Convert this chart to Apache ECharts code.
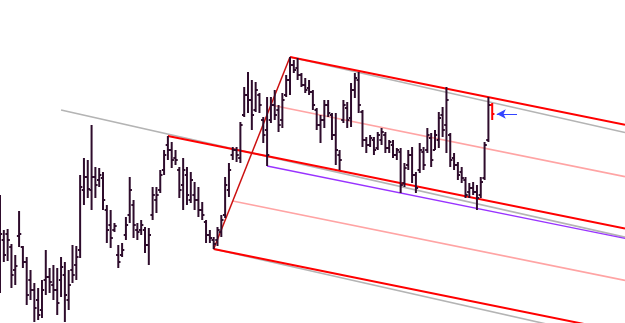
<!DOCTYPE html>
<html>
<head>
<meta charset="utf-8">
<script src="https://cdn.jsdelivr.net/npm/echarts@6/dist/echarts.min.js"></script>
<style>html,body{margin:0;padding:0;background:#fff}#main{width:625px;height:323px}</style>
</head>
<body>
<div id="main"></div>
<script>
// OHLC bars, one per period
var opens = [150,160,166,153,130,164,153,138,120,110,100,90,120,123,115,110,120,125,100,130,135,150,210,223,210,223,220,222,190,175,
  170,145,145,165,185,195,170,170,170,155,185,200,210,230,255,250,242,230,215,225,200,205,200,190,178,165,160,160,168,185,
  210,245,250,242,285,305,300,290,305,280,270,280,295,290,280,305,320,335,332,325,315,312,308,290,275,280,295,285,265,245,
  280,292,282,310,320,288,260,255,260,252,260,265,252,255,245,248,217,235,245,225,230,248,250,262,250,260,285,275,265,
  242,235,228,220,208,212,208,205,222,260,295];
var closes = [166,145,160,125,134,166,138,105,110,92,85,110,123,118,110,97,133,105,115,125,143,213,223,211,223,215,225,200,170,162,
  174,138,150,175,210,175,168,175,155,165,205,205,225,245,250,240,240,210,230,205,220,200,190,185,165,162,156,170,180,215,
  230,250,245,275,305,300,285,310,295,265,245,295,285,275,300,320,335,330,325,315,310,308,295,275,280,295,287,265,250,240,
  295,280,310,322,295,260,255,262,250,265,268,252,258,245,250,215,232,245,225,212,250,235,265,240,265,282,270,300,240,
  235,225,222,205,212,208,202,218,255,295,286];
var lows = [107,138,139,112,115,153,132,95,100,78,80,82,105,107,100,85,103,78,90,117,120,142,195,202,190,202,213,190,157,152,
  168,132,143,160,177,162,160,165,147,135,180,187,207,225,240,232,235,202,190,195,197,190,183,180,157,157,151,154,163,182,
  203,240,238,237,283,287,270,288,287,257,234,277,280,268,272,303,305,327,320,313,307,305,290,270,257,272,283,260,235,230,
  277,272,273,302,287,253,247,253,245,250,255,247,247,242,240,207,213,230,217,207,227,230,247,233,250,252,263,247,233,
  230,220,217,202,202,205,190,202,220,258,280];
var highs = [205,170,171,156,145,189,154,143,130,117,112,120,150,132,135,132,143,138,130,155,154,225,242,240,275,233,232,228,195,190,
  177,155,157,183,223,200,177,180,173,172,213,213,230,250,264,258,250,233,242,233,228,218,213,198,180,170,163,173,185,223,
  237,253,253,278,313,328,320,318,307,283,303,303,310,295,307,325,343,340,342,327,322,320,310,292,285,300,300,287,287,250,
  300,298,317,327,328,290,263,265,263,268,272,268,260,260,252,252,237,250,253,228,257,253,272,267,270,288,293,313,267,
  247,238,233,223,217,218,215,223,258,303,297];

// pitchfork anchors (bar indexes) and the older grey fork start
var pivot1 = 44, pivot2 = 56, pivot3 = 76;
var greyStart = [16, 290];
var purpleFrom = 70;
var xMax = 163.8;

var myChart = echarts.init(document.getElementById('main'));
var bars = opens.map(function (o, i) { return [i, o, closes[i], lows[i], highs[i]]; });
var last = bars.length - 1;

var p1 = [pivot1, highs[pivot1]];
var p2 = [pivot2, lows[pivot2]];
var p3 = [pivot3, highs[pivot3]];
var mid = [(p2[0] + p3[0]) / 2, (p2[1] + p3[1]) / 2];
var k = (mid[1] - p1[1]) / (mid[0] - p1[0]);
var kg = (mid[1] - greyStart[1]) / (mid[0] - greyStart[0]);

function ray(from, slope) {
    return [from, [xMax, from[1] + slope * (xMax - from[0])]];
}
function half(a, b) { return [(a[0] + b[0]) / 2, (a[1] + b[1]) / 2]; }
function seg(pts, color, width, z) {
    return { type: 'line', data: pts, symbol: 'none', silent: true, z: z,
        lineStyle: { color: color, width: width } };
}

var option = {
    animation: false,
    backgroundColor: '#ffffff',
    grid: { left: 0, right: 0, top: 0, bottom: 0 },
    xAxis: { type: 'value', min: 0, max: xMax, show: false },
    yAxis: { type: 'value', min: 77, max: 400, show: false },
    series: [
        // grey fork
        seg(ray(greyStart, kg), '#b4b4b4', 1.6, 1),
        seg(ray(p3, kg), '#b4b4b4', 1.6, 1),
        seg(ray(p2, kg), '#b4b4b4', 1.6, 1),
        // red fork
        seg(ray(half(p3, mid), k), '#ffa4a4', 1.7, 2),
        seg(ray(half(p2, mid), k), '#ffa4a4', 1.7, 2),
        seg(ray([purpleFrom, lows[purpleFrom]], k), '#9933ff', 1.3, 2),
        seg(ray(p1, k), '#ff0000', 2, 3),
        seg(ray(p3, k), '#ff0000', 2, 3),
        seg(ray(p2, k), '#ff0000', 2, 3),
        seg([p2, p3], '#cc1010', 1.5, 3),
        {
            type: 'custom',
            z: 5,
            data: bars,
            encode: { x: 0, y: [1, 2, 3, 4] },
            renderItem: function (params, api) {
                var x = api.coord([api.value(0), 0])[0];
                var yo = api.coord([0, api.value(1)])[1];
                var yc = api.coord([0, api.value(2)])[1];
                var yl = api.coord([0, api.value(3)])[1];
                var yh = api.coord([0, api.value(4)])[1];
                var st = { stroke: params.dataIndex === last ? '#ff0000' : '#2e0c2c', lineWidth: 2 };
                return { type: 'group', children: [
                    { type: 'line', shape: { x1: x, y1: yh, x2: x, y2: yl }, style: st },
                    { type: 'line', shape: { x1: x - 2.2, y1: yo, x2: x, y2: yo }, style: st },
                    { type: 'line', shape: { x1: x, y1: yc, x2: x + 2.2, y2: yc }, style: st }
                ] };
            }
        },
        {
            type: 'line',
            data: [],
            markLine: {
                silent: true,
                symbol: ['arrow', 'none'],
                symbolSize: [7, 9],
                label: { show: false },
                lineStyle: { color: '#3344ff', width: 1, type: 'solid' },
                data: [[{ coord: [last + 1.2, closes[last]] }, { coord: [last + 6.5, closes[last]] }]]
            }
        }
    ]
};
myChart.setOption(option);
</script>
</body>
</html>
